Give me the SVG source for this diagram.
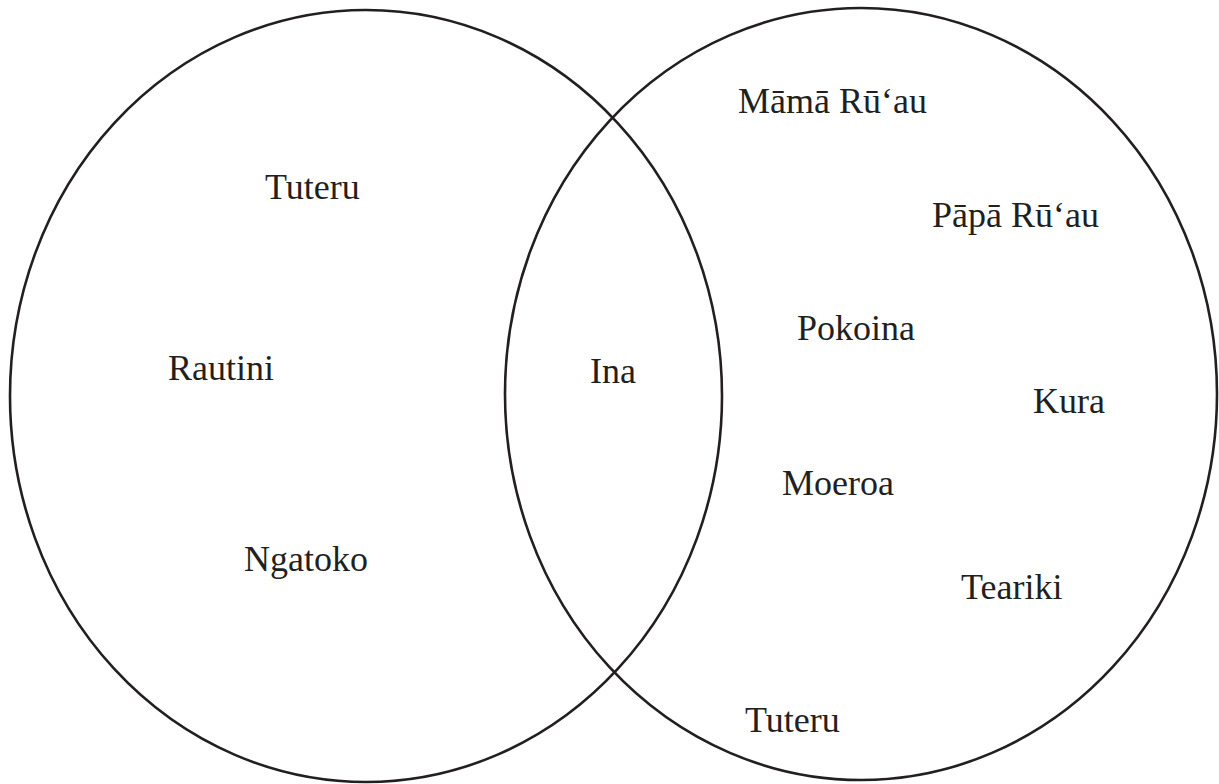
<svg xmlns="http://www.w3.org/2000/svg" width="1219" height="784" viewBox="0 0 1219 784">
<style>
.c{fill:none;stroke:#231f20;stroke-width:2.6}
.t{font-family:"Liberation Serif","Times New Roman",serif;font-size:36px;fill:#231f20}
</style>
<rect width="1219" height="784" fill="#fff"/>
<g id="left-set"><ellipse class="c" cx="366" cy="396" rx="356" ry="386"/></g>
<g id="right-set"><ellipse class="c" cx="861" cy="394" rx="356" ry="386"/></g>
<g id="connectors"></g>
<g id="labels">
<text class="t" x="265" y="199">Tuteru</text>
<text class="t" x="168" y="380">Rautini</text>
<text class="t" x="244" y="571">Ngatoko</text>
<text class="t" x="590" y="383">Ina</text>
<text class="t" x="738" y="113">Māmā Rū‘au</text>
<text class="t" x="932" y="227">Pāpā Rū‘au</text>
<text class="t" x="797" y="340">Pokoina</text>
<text class="t" x="1033" y="413">Kura</text>
<text class="t" x="782" y="495">Moeroa</text>
<text class="t" x="961" y="599">Teariki</text>
<text class="t" x="745" y="732">Tuteru</text>
</g>
</svg>
